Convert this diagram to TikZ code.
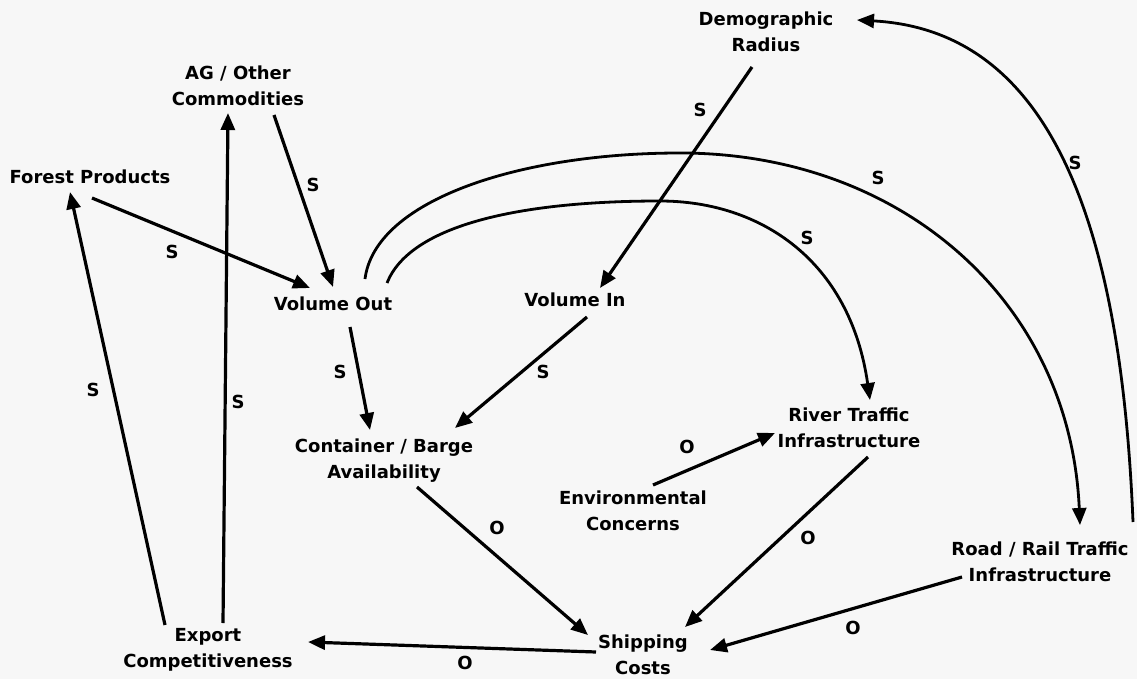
\documentclass[tikz,border=0pt]{standalone}
\usepackage{fontspec}
\setmainfont{DejaVu Sans}
\usetikzlibrary{arrows.meta,calc}
\definecolor{paper}{RGB}{247,247,247}
\begin{document}
\begin{tikzpicture}[x=1pt,y=-1pt,
  var/.style={font=\bfseries\fontsize{18}{26}\selectfont, align=center, inner sep=0pt},
  sign/.style={font=\bfseries\fontsize{18}{26}\selectfont, inner sep=0pt},
  link/.style={line width=3.2pt, -{Triangle[length=17pt,width=14pt]}},
  arc/.style={line width=2.8pt, -{Triangle[length=17pt,width=14pt]}}]
\fill[paper] (0,0) rectangle (1137,679);
\useasboundingbox (0,0) rectangle (1137,679);

% variables of the system
\node[var] (dr) at (766,32)  {Demographic\\Radius};
\node[var] (ag) at (238,86)  {AG / Other\\Commodities};
\node[var] (fp) at (90,177)  {Forest Products};
\node[var] (vo) at (333,304) {Volume Out};
\node[var] (vi) at (575,300) {Volume In};
\node[var] (cb) at (384,461) {Container / Barge\\Availability};
\node[var] (ec) at (633,511) {Environmental\\Concerns};
\node[var] (rt) at (849,428) {River Traffic\\Infrastructure};
\node[var] (rr) at (1040,562) {Road / Rail Traffic\\Infrastructure};
\node[var] (sc) at (643,655) {Shipping\\Costs};
\node[var] (ex) at (208,650) {Export\\Competitiveness};

% straight influences
\draw[link] ($(fp)+(2,21)$)   -- ($(vo)+(-23,-16)$);
\draw[link] ($(ag)+(36,29)$)  -- ($(vo)+(0,-17)$);
\draw[link] ($(ex)+(15,-27)$) -- ($(ag)+(-10,27)$);
\draw[link] ($(ex)+(-43,-25)$) -- ($(fp)+(-20,15)$);
\draw[link] ($(vo)+(17,23)$)  -- ($(cb)+(-14,-31)$);
\draw[link] ($(vi)+(12,17)$)  -- ($(cb)+(71,-33)$);
\draw[link] ($(dr)+(-14,35)$) -- ($(vi)+(25,-12)$);
\draw[link] ($(ec)+(20,-26)$) -- ($(rt)+(-74,5)$);
\draw[link] ($(cb)+(33,26)$)  -- ($(sc)+(-55,-20)$);
\draw[link] ($(rt)+(19,29)$)  -- ($(sc)+(42,-28)$);
\draw[link] ($(rr)+(-78,15)$) -- ($(sc)+(67,-5)$);
\draw[link] ($(sc)+(-47,-3)$) -- ($(ex)+(100,-8)$);

% curved influences
\draw[arc] ($(vo)+(54,-21)$) .. controls (410,225) and (520,201) .. (660,201)
            .. controls (760,201) and (850,260) .. ($(rt)+(21,-28)$);
\draw[arc] ($(vo)+(32,-25)$) .. controls (375,200) and (520,153) .. (680,153)
            .. controls (900,153) and (1070,300) .. ($(rr)+(40,-37)$);
\draw[arc] ($(rr)+(93,-40)$) .. controls (1120,200) and (1040,30) .. ($(dr)+(91,-12)$);

% polarity of each influence
\node[sign] (s1)  at (172,252) {S};
\node[sign] (s2)  at (313,185) {S};
\node[sign] (s3)  at (238,402) {S};
\node[sign] (s4)  at (93,390)  {S};
\node[sign] (s5)  at (340,372) {S};
\node[sign] (s6)  at (543,372) {S};
\node[sign] (s7)  at (700,110) {S};
\node[sign] (s8)  at (807,238) {S};
\node[sign] (s9)  at (878,178) {S};
\node[sign] (s10) at (1075,163) {S};
\node[sign] (o1)  at (687,447) {O};
\node[sign] (o2)  at (497,528) {O};
\node[sign] (o3)  at (465,663) {O};
\node[sign] (o4)  at (808,538) {O};
\node[sign] (o5)  at (853,628) {O};
\end{tikzpicture}
\end{document}
